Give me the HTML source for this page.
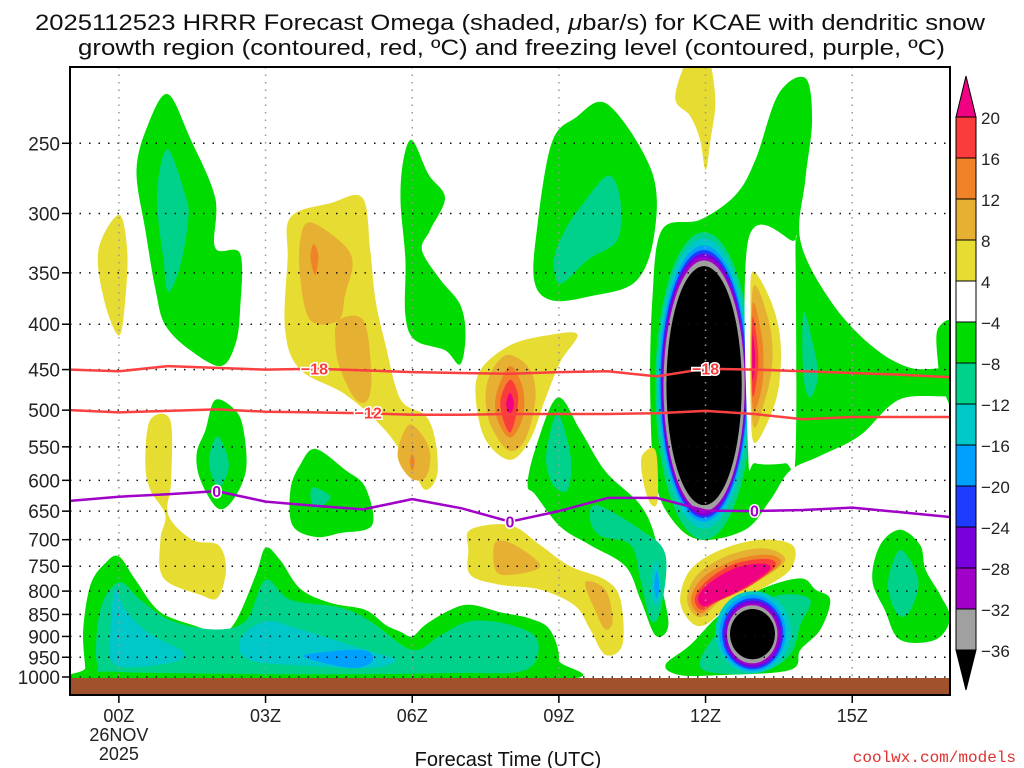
<!DOCTYPE html>
<html><head><meta charset="utf-8"><style>
html,body{margin:0;padding:0;background:#fff;width:1024px;height:768px;overflow:hidden}
svg{display:block;font-family:"Liberation Sans",sans-serif}
</style></head><body>
<svg id="chart" width="1024" height="768" viewBox="0 0 1024 768">
<defs><clipPath id="plotclip"><rect x="70" y="67" width="880" height="628"/></clipPath></defs>
<g>
<text x="35" y="30" font-size="22" textLength="950" lengthAdjust="spacingAndGlyphs" fill="#111">2025112523 HRRR Forecast Omega (shaded, <tspan font-style="italic">μ</tspan>bar/s) for KCAE with dendritic snow</text>
<text x="78" y="55" font-size="22" textLength="867" lengthAdjust="spacingAndGlyphs" fill="#111">growth region (contoured, red, ºC) and freezing level (contoured, purple, ºC)</text>
</g>
<g id="shading" clip-path="url(#plotclip)"></g>
<g id="grid"></g>
<g id="lines" clip-path="url(#plotclip)"></g>
<rect x="70" y="678" width="880" height="17" fill="#a0522d"/>
<rect x="70" y="67" width="880" height="628" fill="none" stroke="#000" stroke-width="2"/>
<g id="axes"></g>
<g id="cbar"></g>
<text x="508" y="766" font-size="20" text-anchor="middle" fill="#111">Forecast Time (UTC)</text>
<text x="1016" y="762" font-size="16" text-anchor="end" fill="#e03030" font-family="Liberation Mono, monospace">coolwx.com/models</text>
</svg>
<script>
const NS='http://www.w3.org/2000/svg';
// axis domains
const hourMin=-1, hourMax=17;
const pTicks=[250,300,350,400,450,500,550,600,650,700,750,800,850,900,950,1000];
const xTickHours=[0,3,6,9,12,15];
const xTickLabels=['00Z','03Z','06Z','09Z','12Z','15Z'];
const cbarLabels=['20','16','12','8','4','−4','−8','−12','−16','−20','−24','−28','−32','−36'];
const cbarColors=['#fa3c3c','#f08228','#e6b032','#e6dc32','#ffffff','#00dc00','#00d28c','#00c8c8','#00a0ff','#1e3cff','#7800dc','#a000c8','#a0a0a0'];
const LV={y:'#e6dc32',g8:'#e6b032',o:'#f08228',r:'#fa3c3c',m:'#f00082',w:'#ffffff',gr:'#00dc00',tg:'#00d28c',cy:'#00c8c8',bl:'#00a0ff',db:'#1e3cff',vi:'#7800dc',pu:'#a000c8',gy:'#a0a0a0',bk:'#000000'};
// contour line data (hour, hPa)
const lineHours=[-1,0,1,2,3,4,5,6,7,8,9,10,11,12,13,14,15,16,17];
const iso18=[450,452,446,448,450,449,451,453,454,455,453,452,458,449,450,452,454,456,459];
const iso12=[500,503,501,499,502,503,504,506,506,505,505,505,504,501,505,512,509,509,509];
const freeze0=[633,626,622,617,634,641,647,630,645,668,650,628,628,649,650,648,644,652,660];
const lineLabels=[['−18',4,449,'#fa3c3c'],['−18',12,449,'#fa3c3c'],['−12',5.1,503,'#fa3c3c'],['0',2,617,'#a000c8'],['0',8,668,'#a000c8'],['0',13,649,'#a000c8']];
// shaded regions: [level, [[hour,hPa],...]]
const regions=[
['gr',[[1.0,220],[1.46,247],[1.97,288],[1.97,328],[2.48,333],[2.48,385],[2.38,422],[2.08,446],[1.46,428],[0.95,401],[0.75,366],[0.54,313],[0.36,268],[0.6,238]]],
['tg',[[0.99,254],[1.36,286],[1.42,304],[1.26,343],[1.01,368],[0.91,338],[0.78,286]]],
['y',[[0,301],[0.17,330],[0.13,376],[0,412],[-0.3,376],[-0.42,330]]],
['y',[[3.51,303],[4.33,292],[4.98,288],[5.14,330],[5.25,376],[5.45,421],[5.76,486],[6.27,507],[6.47,540],[6.51,591],[6.27,615],[6,583],[5.45,527],[4.63,480],[3.71,450],[3.4,406],[3.45,338]]],
['g8',[[3.92,307],[4.59,325],[4.78,342],[4.63,370],[4.49,396],[3.92,396],[3.71,356],[3.71,321]]],
['g8',[[4.49,396],[5.0,396],[5.16,450],[5.1,486],[4.84,486],[4.53,450],[4.43,422]]],
['o',[[3.98,325],[4.08,334],[4.02,352],[3.92,337]]],
['g8',[[5.92,520],[6.21,534],[6.37,562],[6.27,596],[5.96,596],[5.7,562]]],
['o',[[6.0,560],[6.05,572],[6.0,585],[5.95,572]]],
['gr',[[6.0,248],[6.33,271],[6.67,288],[6.37,313],[6.2,330],[6.57,356],[6.98,380],[7.09,411],[6.98,444],[6.67,428],[6.06,417],[5.86,391],[5.86,338],[5.76,290],[5.82,261]]],
['gr',[[10.0,226],[10.9,269],[10.95,317],[10.57,358],[9.64,372],[8.86,376],[8.5,358],[8.55,313],[8.85,250],[9.34,234]]],
['tg',[[10.0,272],[10.25,288],[10.2,321],[9.6,338],[9.03,360],[8.9,338],[9.13,313],[9.44,295]]],
['y',[[9.38,411],[9.03,441],[8.72,486],[8.41,540],[8,569],[7.5,540],[7.3,486],[7.4,450],[8.02,422],[8.84,411]]],
['g8',[[7.97,433],[8.41,450],[8.52,486],[8.31,540],[7.97,555],[7.6,519],[7.5,480],[7.64,450]]],
['o',[[8.0,446],[8.27,474],[8.25,512],[8,537],[7.74,512],[7.72,480]]],
['r',[[8.0,462],[8.17,486],[8,530],[7.8,492]]],
['m',[[8,478],[8.08,492],[8,505],[7.92,492]]],
['gr',[[8.97,484],[9.44,527],[9.95,586],[10.67,640],[10.98,700],[11.08,777],[11.24,873],[10.98,898],[10.67,818],[10.36,750],[9.64,710],[9.03,677],[8.52,623],[8.36,607],[8.52,553]]],
['tg',[[8.97,505],[9.24,563],[9.18,615],[8.88,607],[8.74,563]]],
['gr',[[11.11,313],[11.89,305],[12.61,286],[13.02,261],[13.49,220],[14.04,211],[14.18,235],[14.04,275],[13.94,322],[14.55,376],[15.37,422],[16.19,448],[17.1,450],[17.1,480],[15.98,486],[15.16,534],[14.35,563],[13.73,585],[13.32,632],[12.81,682],[11.89,700],[11.32,665],[10.97,600],[10.87,486],[10.91,376]]],
['tg',[[9.78,640],[10.67,682],[11.18,728],[11.08,841],[10.88,863],[10.67,777],[10.47,710],[9.85,693],[9.64,665]]],
['cy',[[10.98,738],[11.08,797],[10.98,831],[10.88,797]]],
['bl',[[11,760],[11.05,790],[11,815],[10.95,790]]],
['gr',[[16.75,405],[17.1,402],[17.1,495],[16.85,472],[16.75,440]]],
['tg',[[14.0,388],[14.18,417],[14.3,456],[14.14,484],[14.0,456]]],
['w',[[12.87,322],[13.77,322],[13.84,334],[13.84,563],[13.63,574],[13.02,574],[12.87,556]]],
['y',[[11.69,198],[12.03,198],[12.2,223],[12.1,248],[12,268],[11.89,248],[11.69,233],[11.38,222]]],
['y',[[12.96,349],[13.33,376],[13.53,417],[13.49,474],[13.22,523],[12.98,543],[12.92,486],[12.92,394]]],
['g8',[[12.96,366],[13.28,394],[13.37,439],[13.22,486],[12.96,516]]],
['o',[[12.96,380],[13.16,417],[13.16,468],[12.96,495]]],
['r',[[12.96,393],[13.08,439],[12.96,482]]],
['m',[[12.96,411],[13.02,439],[12.96,462]]],
['y',[[11.48,818],[11.69,757],[12.3,719],[13.12,700],[13.79,711],[13.73,757],[13.12,797],[12.5,829],[12,873],[11.69,866]]],
['g8',[[11.62,818],[11.85,765],[12.5,728],[13.22,716],[13.63,738],[13.12,777],[12.4,812],[11.89,856]]],
['o',[[11.7,818],[11.95,772],[12.6,738],[13.28,728],[13.53,745],[12.95,785],[12.3,815],[11.9,848]]],
['r',[[11.78,815],[12.05,777],[12.6,745],[13.25,736],[13.42,750],[12.9,790],[12.25,822],[11.92,840]]],
['m',[[11.85,812],[12.1,782],[12.65,752],[13.2,745],[13.3,758],[12.8,792],[12.2,822],[11.95,832]]],
['gr',[[11.18,969],[11.69,920],[12.3,850],[13.12,797],[13.94,774],[14.25,797],[14.55,818],[14.35,884],[13.94,932],[13.73,982],[12.3,995],[11.48,995]]],
['tg',[[11.89,957],[12.3,884],[12.81,841],[13.53,808],[14.14,818],[13.94,873],[13.73,944],[13.12,988],[12.1,988]]],
['gr',[[-0.69,977],[-0.73,885],[-0.58,787],[-0.28,744],[0,731],[0.34,777],[0.85,845],[1.67,880],[1.99,902],[2.38,867],[2.8,767],[3,715],[3.3,738],[3.71,795],[4.33,825],[5.04,840],[5.45,873],[5.76,889],[6,900],[6.27,873],[6.78,840],[7.19,829],[7.8,845],[8.41,859],[8.82,885],[9,957],[8.7,1010],[-0.7,1010]]],
['tg',[[-0.44,969],[-0.38,840],[0,782],[0.44,818],[1.05,863],[1.97,884],[2.6,863],[3,777],[3.51,818],[4.54,835],[5.14,865],[6,932],[6.58,897],[7.19,865],[8,873],[8.56,908],[8.32,982],[6.78,990],[3.71,993],[0,987]]],
['cy',[[-0.07,797],[0.13,840],[0.64,895],[1.32,937],[1.05,964],[-0.07,969],[-0.17,884]]],
['cy',[[2.48,908],[3,865],[3.71,884],[5.04,932],[5.66,957],[5.14,977],[3.92,972],[2.68,957]]],
['bl',[[3.82,944],[4.96,932],[5.2,957],[4.84,977],[4.12,962]]],
['gr',[[1.97,487],[2.38,500],[2.55,527],[2.6,584],[2.33,632],[2.02,645],[1.67,600],[1.59,560],[1.77,527]]],
['tg',[[2.02,535],[2.25,576],[2.04,611],[1.84,572]]],
['gr',[[4.02,553],[4.63,584],[5.04,611],[5.18,674],[4.53,688],[4.02,695],[3.55,674],[3.51,614],[3.71,576]]],
['tg',[[3.98,611],[4.33,627],[4.02,645],[3.92,627]]],
['y',[[0.64,513],[1.05,513],[1.07,600],[1.01,656],[1.5,700],[2.04,710],[2.19,757],[2.02,814],[1.67,808],[0.91,773],[0.85,700],[0.95,656],[0.64,615],[0.54,572]]],
['y',[[7.19,682],[8,674],[8.62,710],[9.23,750],[9.95,777],[10.26,818],[10.3,920],[9.95,944],[9.64,884],[9.33,831],[8.62,797],[7.8,787],[7.19,767],[7.15,719]]],
['g8',[[7.7,705],[8.1,710],[8.62,750],[8,767],[7.7,757]]],
['g8',[[9.54,782],[9.95,797],[10.1,863],[9.95,884],[9.74,841]]],
['y',[[10.7,563],[10.98,556],[11.02,632],[10.87,637],[10.72,600]]],
['gr',[[15.98,682],[15.57,710],[15.41,777],[15.67,841],[15.98,908],[16.7,908],[17,859],[16.8,808],[16.5,757],[16.39,710]]],
['tg',[[15.98,719],[16.35,777],[16.19,841],[15.94,851],[15.73,787]]]
];
// concentric vortex rings: [level, hourLo, hourHi, pTop, pBottom]
const rings=[
['tg',10.97,12.96,315,700],['cy',11.02,12.9,320,680],['bl',11.05,12.87,326,668],['db',11.08,12.85,330,662],['vi',11.1,12.83,333,658],['pu',11.12,12.81,336,654],['gy',11.14,12.8,339,650],['bk',11.2,12.74,344,640],
['cy',12.2,13.75,800,990],['bl',12.28,13.64,808,985],['db',12.34,13.59,815,980],['vi',12.38,13.55,820,975],['pu',12.42,13.51,826,970],['gy',12.44,13.47,830,965],['bk',12.5,13.42,838,955]
];
// axis functions
const X0=70,X1=950,Y1000=677,KY=385;
const xs=h=>X0+(h-hourMin)/(hourMax-hourMin)*(X1-X0);
const ys=p=>Y1000-Math.log(1000/p)*KY;
function el(tag,attrs,parent){const e=document.createElementNS(NS,tag);for(const k in attrs)e.setAttribute(k,attrs[k]);parent.appendChild(e);return e;}
function smooth(pts){const P=pts.map(([h,p])=>[xs(h),ys(p)]);const n=P.length;let d='M'+P[0][0].toFixed(1)+','+P[0][1].toFixed(1);
for(let i=0;i<n;i++){const p0=P[(i-1+n)%n],p1=P[i],p2=P[(i+1)%n],p3=P[(i+2)%n];
const c1=[p1[0]+(p2[0]-p0[0])/6,p1[1]+(p2[1]-p0[1])/6],c2=[p2[0]-(p3[0]-p1[0])/6,p2[1]-(p3[1]-p1[1])/6];
d+='C'+c1.map(v=>v.toFixed(1))+' '+c2.map(v=>v.toFixed(1))+' '+p2.map(v=>v.toFixed(1));}return d+'Z';}
const shading=document.getElementById('shading');
regions.forEach((r,i)=>{
 const path=el('path',{d:smooth(r[1]),fill:LV[r[0]]},shading);
 
 
 if(i===22){rings.slice(0,8).forEach(drawRing);}
 if(i===38){rings.slice(8).forEach(drawRing);}
});
function drawRing(g){const x0=xs(g[1]),x1=xs(g[2]),y0=ys(g[3]),y1=ys(g[4]);
 const e=el('ellipse',{cx:(x0+x1)/2,cy:(y0+y1)/2,rx:(x1-x0)/2,ry:(y1-y0)/2,fill:LV[g[0]]},shading);
 
 }
// grid + axes
const grid=document.getElementById('grid'),axes=document.getElementById('axes');
pTicks.forEach(p=>{const y=ys(p);
 const l=el('line',{x1:X0,x2:X1,y1:y,y2:y,stroke:'#111','stroke-width':1.5,'stroke-dasharray':'1.5 8'},grid);
 
 
 el('line',{x1:X0-8,x2:X0,y1:y,y2:y,stroke:'#000','stroke-width':1.5},axes);
 const t=el('text',{x:X0-10,y:y+7,'font-size':19,'text-anchor':'end',fill:'#222'},axes);t.textContent=p;
 
 });
xTickHours.forEach((h,i)=>{const x=xs(h);
 const l=el('line',{x1:x,x2:x,y1:67,y2:695,stroke:'#999','stroke-width':1.5,'stroke-dasharray':'1.5 6'},grid);
 
 
 el('line',{x1:x,x2:x,y1:695,y2:703,stroke:'#000','stroke-width':1.5},axes);
 const t=el('text',{x:x,y:722,'font-size':18,'text-anchor':'middle',fill:'#222'},axes);t.textContent=xTickLabels[i];
 
 });
[['26NOV',741],['2025',760]].forEach(([s,y])=>{const t=el('text',{x:xs(0),y:y,'font-size':18,'text-anchor':'middle',fill:'#222'},axes);t.textContent=s;
 
 });
// contour lines
const lines=document.getElementById('lines');
function drawLine(vals,color,name){const d=lineHours.map((h,i)=>(i?'L':'M')+xs(h).toFixed(1)+','+ys(vals[i]).toFixed(1)).join('');
 const p=el('path',{d:d,fill:'none',stroke:color,'stroke-width':2.5,'stroke-linejoin':'round'},lines);
 
 }
drawLine(iso18,'#fa4040','isotherm-minus18');
drawLine(iso12,'#fa4040','isotherm-minus12');
drawLine(freeze0,'#a000c8','freezing-level');
lineLabels.forEach(([s,h,p,c])=>{const x=xs(h),y=ys(p);
 const t=el('text',{x:x,y:y+6,'font-size':16,'font-weight':'bold','text-anchor':'middle',fill:c,stroke:'#fff','stroke-width':3,'paint-order':'stroke'},lines);t.textContent=s;
 
 });
// colorbar
const cb=document.getElementById('cbar');const CX0=956,CX1=976,CTOP=117,CSTEP=41;
el('path',{d:`M${CX0},${CTOP}L${(CX0+CX1)/2},76L${CX1},${CTOP}Z`,fill:'#f00082',stroke:'#000','stroke-width':1},cb);
cbarColors.forEach((c,i)=>{const r=el('rect',{x:CX0,y:CTOP+i*CSTEP,width:CX1-CX0,height:CSTEP,fill:c,stroke:'#000','stroke-width':1},cb);
 
 });
const cbBot=CTOP+cbarColors.length*CSTEP;
el('path',{d:`M${CX0},${cbBot}L${(CX0+CX1)/2},690L${CX1},${cbBot}Z`,fill:'#000',stroke:'#000','stroke-width':1},cb);
cbarLabels.forEach((s,i)=>{const t=el('text',{x:981,y:CTOP+i*CSTEP+7,'font-size':17,fill:'#222'},cb);t.textContent=s;
 
 });
</script>
</body></html>
